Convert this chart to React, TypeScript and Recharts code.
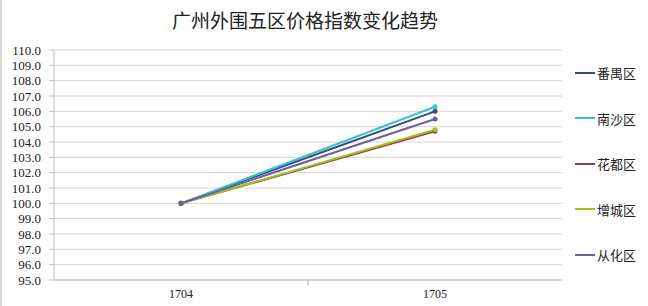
import React from "react";
import { LineChart, Line, XAxis, YAxis, CartesianGrid } from "recharts";

const categories = ["1704", "1705"];
const panyu = [100.0, 106.0];
const nansha = [100.0, 106.3];
const huadu = [100.0, 104.7];
const zengcheng = [100.0, 104.8];
const conghua = [100.0, 105.5];
const yTicks = [95, 96, 97, 98, 99, 100, 101, 102, 103, 104, 105, 106, 107, 108, 109, 110];
const title = "广州外围五区价格指数变化趋势";

const seriesDefs = [
  { key: "番禺区", values: panyu, color: "#2B4F8C" },
  { key: "南沙区", values: nansha, color: "#3CC4C4" },
  { key: "花都区", values: huadu, color: "#953A55" },
  { key: "增城区", values: zengcheng, color: "#9CC31C" },
  { key: "从化区", values: conghua, color: "#6E5E9E" },
];

const data = categories.map((c, i) => {
  const row: any = { cat: c };
  seriesDefs.forEach((s) => (row[s.key] = s.values[i]));
  return row;
});

const XTick = (props: any) => {
  const { x, y, payload, index, width } = props;
  const band = width / categories.length;
  return (
    <g>
      {index < categories.length - 1 && (
        <line x1={x + band / 2} x2={x + band / 2} y1={y - 9} y2={y - 4} stroke="#A6A6A6" />
      )}
      <text x={x} y={y} dy="0.71em" textAnchor="middle" fontSize={12} fill="#222" fontFamily="'Liberation Serif', serif">
        {payload.value}
      </text>
    </g>
  );
};

export default function App() {
  return (
    <div
      style={{
        position: "fixed",
        left: 0,
        top: 0,
        width: 648,
        height: 306,
        background: "#fff",
        boxSizing: "border-box",
        borderLeft: "2px solid #D9D9D9",
      }}
    >
      <div
        style={{
          position: "absolute",
          left: 0,
          width: 606,
          top: 8,
          textAlign: "center",
          fontSize: 19,
          color: "#222",
          fontFamily: "'Noto Sans CJK SC', sans-serif",
          lineHeight: "24px",
        }}
      >
        {title}
      </div>
      <LineChart
        width={648}
        height={306}
        data={data}
        margin={{ top: 50, right: 88, bottom: 0, left: 0 }}
        style={{ position: "absolute", left: 0, top: 0 }}
      >
        <CartesianGrid vertical={false} stroke="#D4D4D4" strokeWidth={1} />
        <XAxis
          dataKey="cat"
          scale="band"
          axisLine={{ stroke: "#BFBFBF" }}
          tickLine={false}
          tickSize={0}
          tickMargin={9}
          tick={<XTick />}
          height={26}
          interval={0}
        />
        <YAxis
          domain={[95, 110]}
          ticks={yTicks}
          interval={0}
          width={52}
          axisLine={{ stroke: "#BFBFBF" }}
          tickLine={{ stroke: "#BFBFBF" }}
          tickSize={5}
          tickMargin={8}
          tickFormatter={(v: number) => v.toFixed(1)}
          tick={{ fontSize: 13, fill: "#222", fontFamily: "'Liberation Serif', serif" }}
        />
        {seriesDefs.map((s) => (
          <Line
            key={s.key}
            dataKey={s.key}
            name={s.key}
            stroke={s.color}
            strokeWidth={2}
            dot={{ r: 1.5, fill: s.color, stroke: s.color }}
            isAnimationActive={false}
          />
        ))}
      </LineChart>
      <div style={{ position: "absolute", left: 573, top: 50, display: "flex", flexDirection: "column" }}>
        {seriesDefs.map((s) => (
          <div key={s.key} style={{ display: "flex", alignItems: "center", height: 45.5 }}>
            <svg width={20} height={4} style={{ marginRight: 2 }}>
              <line x1={0} x2={20} y1={2} y2={2} stroke={s.color} strokeWidth={2} />
            </svg>
            <span style={{ fontSize: 13, color: "#222", fontFamily: "'Noto Sans CJK SC', sans-serif" }}>{s.key}</span>
          </div>
        ))}
      </div>
    </div>
  );
}
